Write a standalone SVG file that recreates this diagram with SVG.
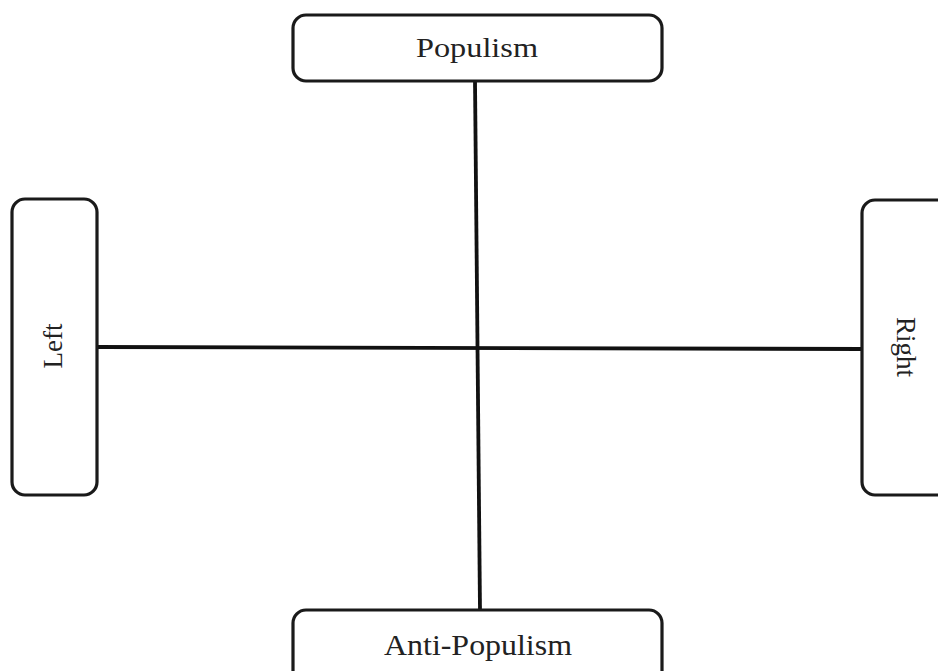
<svg xmlns="http://www.w3.org/2000/svg" width="938" height="671" viewBox="0 0 938 671">
<style>
.box{fill:#fff;stroke:#1a1a1a;stroke-width:3.2}
.lbl{font-family:"Liberation Serif","Times New Roman",serif;fill:#222;text-anchor:middle}
.conn{stroke:#111;stroke-width:3.8;fill:none}
</style>
<rect width="938" height="671" fill="#fff"/>
<g id="connectors">
<line class="conn" x1="475" y1="81" x2="480" y2="610"/>
<line class="conn" x1="97" y1="347" x2="862" y2="349"/>
</g>
<g id="populism">
<rect class="box" x="293" y="15" width="369" height="66" rx="13"/>
<text class="lbl" x="477" y="57" font-size="28" textLength="122" lengthAdjust="spacingAndGlyphs">Populism</text>
</g>
<g id="left">
<rect class="box" x="12" y="199" width="85" height="296" rx="13"/>
<text class="lbl" transform="translate(62,346) rotate(-90)" font-size="27">Left</text>
</g>
<g id="right">
<rect class="box" x="862" y="200" width="100" height="295" rx="13"/>
<text class="lbl" transform="translate(897,347) rotate(90)" font-size="27">Right</text>
</g>
<g id="anti-populism">
<rect class="box" x="293" y="610" width="369" height="80" rx="13"/>
<text class="lbl" x="478" y="655" font-size="29" textLength="188" lengthAdjust="spacingAndGlyphs">Anti-Populism</text>
</g>
</svg>
